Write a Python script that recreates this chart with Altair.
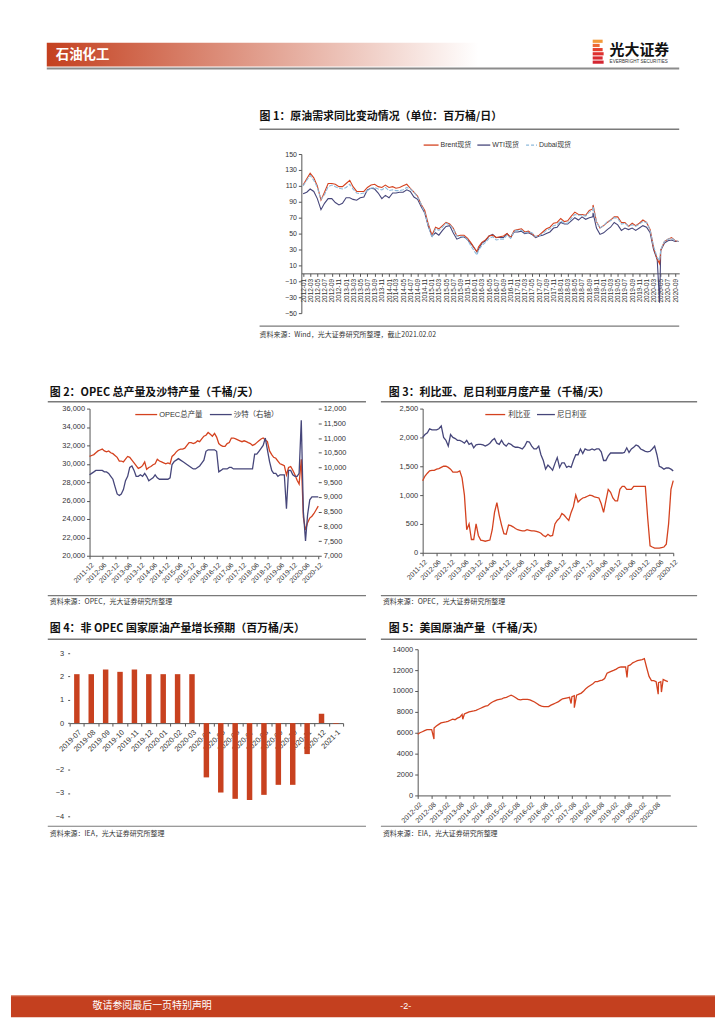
import altair as alt
import pandas as pd

FONT = "Liberation Sans, Noto Sans CJK SC, sans-serif"
CJK = "Noto Sans CJK SC"
RED = "#d4421f"
NAVY = "#46467a"
BLUE = "#8dbadc"
LINEGRAY = "#8a8a8a"
AXC = "#555555"
LBL = "#333333"

# ---------------- Figure 1 : Brent / WTI / Dubai spot ----------------
f1_start, f1_end = "2012-01-01", "2020-10-01"
brent = [111, 119, 126, 120, 110, 92, 102, 113, 113, 112, 109, 109,
         113, 117, 109, 103, 103, 103, 108, 111, 112, 109, 108, 111,
         108, 109, 107, 108, 110, 112, 107, 102, 97, 87, 79, 62,
         48, 58, 56, 60, 64, 62, 57, 47, 48, 48, 44, 38,
         31, 33, 39, 42, 47, 48, 45, 46, 47, 50, 45, 54,
         55, 56, 52, 53, 50, 46, 48, 52, 56, 58, 63, 64,
         69, 65, 66, 72, 77, 74, 74, 73, 79, 81, 65, 57,
         60, 64, 67, 71, 71, 64, 64, 59, 63, 60, 63, 67,
         64, 55, 32, 18, 29, 40, 43, 45, 41, 40]
wti = [100, 102, 106, 103, 94, 80, 88, 94, 94, 89, 86, 88,
       95, 95, 93, 92, 95, 96, 105, 107, 106, 101, 94, 98,
       95, 101, 101, 102, 102, 105, 103, 96, 93, 84, 76, 59,
       47, 51, 48, 54, 59, 60, 51, 43, 45, 46, 42, 37,
       31, 30, 38, 41, 47, 49, 45, 45, 45, 50, 45, 52,
       52, 53, 50, 51, 49, 45, 47, 48, 50, 52, 57, 58,
       64, 62, 62, 66, 70, 67, 71, 68, 70, 71, 57, 49,
       51, 55, 58, 64, 61, 54, 57, 55, 57, 54, 57, 60,
       58, 51, 30, 17, 29, 38, 41, 42, 40, 40]
dubai = [110, 117, 123, 117, 108, 93, 99, 109, 111, 109, 107, 106,
         108, 112, 106, 101, 100, 101, 104, 107, 108, 106, 105, 108,
         104, 105, 104, 104, 105, 108, 106, 102, 96, 87, 76, 60,
         45, 56, 54, 58, 63, 61, 56, 47, 46, 46, 42, 34,
         27, 29, 35, 39, 44, 46, 42, 43, 43, 48, 44, 53,
         54, 54, 51, 52, 51, 46, 47, 50, 54, 56, 60, 61,
         66, 63, 63, 69, 74, 73, 73, 72, 77, 79, 65, 57,
         60, 65, 66, 70, 69, 62, 63, 59, 61, 59, 62, 65,
         64, 54, 34, 20, 30, 40, 43, 44, 41, 40]
f1_extra_dates = ["2016-01-20", "2018-10-03", "2020-04-21"]
f1_extra_brent = [27, 86, 12]
f1_extra_wti = [27, 76, -37]
f1_extra_dubai = [23, 84, 16]
f1_ticks = [f"{y}-{m:02d}" for y in range(2012, 2021) for m in (1, 3, 5, 7, 9, 11)
            if (y, m) <= (2020, 9)]
f1_yticks = [-50, -30, -10, 10, 30, 50, 70, 90, 110, 130, 150]

# ---------------- Figure 2 : OPEC & Saudi ----------------
f2_start, f2_end = "2011-12-01", "2020-12-01"
opec = [30800,
        30900, 31000, 31200, 31400, 31500, 31600, 31400, 31300, 31400, 31200, 31100, 30900,
        30700, 30300, 30300, 30200, 30500, 30800, 30700, 30400, 30100, 29800, 29500, 29600,
        29800, 30200, 29400, 29600, 29700, 29900, 30000, 30500, 30300, 30200, 30100, 30000,
        30100, 30000, 30800, 31000, 31300, 31500, 31600, 31600, 31700, 32000, 32300, 32300,
        32200, 32300, 32500, 32400, 32700, 33000, 33100, 33400, 33200, 33000, 33300, 32900,
        32200, 32000, 31900, 31900, 32200, 32300, 32800, 32800, 32700, 32600, 32500, 32400,
        32500, 32400, 32300, 32200, 32000, 32100, 32300, 32500, 32700, 32800, 32600, 32400,
        31400, 31000, 30700, 30600, 30300, 30000, 29900, 29800, 28800, 29600, 29700, 29300,
        28800, 28200, 27800, 30500, 24200, 22800, 23600, 24100, 24300, 24600, 25000, 25400]
saudi = [9750,
         9800, 9850, 9900, 9900, 9900, 9900, 9850, 9850, 9800, 9700, 9600, 9350,
         9100, 9050, 9100, 9250, 9550, 9700, 10000, 10050, 9900, 9700, 9700, 9750,
         9700, 9800, 9700, 9550, 9600, 9650, 9750, 9650, 9600, 9600, 9600, 9600,
         9600, 9650, 10100, 10200, 10250, 10300, 10250, 10200, 10150, 10100, 10050, 10000,
         9950, 9950, 10000, 10050, 10150, 10250, 10550, 10600, 10600, 10600, 10600, 10550,
         9850, 9900, 9950, 9950, 9950, 10000, 10000, 9950, 9950, 9950, 9950, 9950,
         9950, 9950, 9950, 9950, 9950, 10450, 10450, 10550, 10650, 10750, 11000, 10600,
         10200, 9900, 9800, 9800, 9700, 9750, 9750, 9750, 8600, 9900, 9900, 9750,
         9700, 9700, 9800, 11600, 8500, 7500, 8400, 8900, 9000, 9000, 9000, 9000]
f2_ticks = [f"{y}-{m:02d}" for y in range(2011, 2021) for m in (6, 12) if (y, m) >= (2011, 12)]
f2_lticks = list(range(20000, 36001, 2000))
f2_rticks = list(range(7000, 12001, 500))

# ---------------- Figure 3 : Libya & Nigeria ----------------
libya = [1250,
         1330, 1380, 1420, 1430, 1430, 1450, 1460, 1480, 1500, 1500, 1480, 1450,
         1400, 1400, 1400, 1420, 1300, 1000, 400, 500, 230, 230, 500, 300,
         220, 210, 200, 210, 220, 400, 700, 870, 650, 480, 330, 320,
         480, 470, 450, 420, 400, 390, 380, 380, 400, 390, 380, 380,
         370, 360, 340, 300, 280, 320, 290, 300, 500, 560, 600, 680,
         650, 600, 560, 700, 800, 1000, 880, 920, 950, 960, 980, 1000,
         990, 970, 960, 950, 850, 700, 900, 1100, 1050, 950, 900, 900,
         1100, 1150, 1150, 1100, 1100, 1100, 1150, 1150, 1150, 1150, 1150, 1150,
         600, 120, 100, 80, 80, 80, 90, 100, 150, 500, 1100, 1250]
nigeria = [2000,
           2050, 2080, 2150, 2130, 2130, 2130, 2150, 2200, 2000, 1950, 1850, 2050,
           2000, 1980, 1950, 1950, 1930, 1900, 1950, 1880, 1900, 1820, 1870, 1880,
           1880, 1870, 1850, 1870, 1900, 1950, 1980, 1900, 1880, 1950, 1880, 1850,
           1900, 1880, 1850, 1830, 1830, 1820, 1800, 1850, 1930, 1920, 1850, 1800,
           1800, 1850, 1700, 1600, 1450, 1520, 1480, 1430, 1550, 1650, 1480, 1560,
           1560, 1480, 1500, 1480, 1600, 1700, 1700, 1800, 1720, 1800, 1780, 1780,
           1800, 1780, 1800, 1800, 1750, 1600, 1600, 1680, 1730, 1730, 1730, 1730,
           1730, 1730, 1740, 1820, 1740, 1800, 1830, 1870, 1850, 1800, 1780, 1760,
           1750, 1760, 1800, 1850, 1700, 1500, 1480, 1450, 1470, 1470, 1450, 1420]
f3_yticks = [0, 500, 1000, 1500, 2000, 2500]

# ---------------- Figure 4 : non-OPEC growth ----------------
f4_cats = ["2019-07", "2019-08", "2019-09", "2019-10", "2019-11", "2019-12",
           "2020-01", "2020-02", "2020-03", "2020-04", "2020-05", "2020-06",
           "2020-07", "2020-08", "2020-09", "2020-10", "2020-11", "2020-12", "2021-1"]
f4_vals = [2.1, 2.1, 2.3, 2.2, 2.3, 2.1, 2.1, 2.1, 2.1, -2.33, -2.98, -3.25,
           -3.3, -3.08, -2.65, -2.65, -1.33, 0.4, -0.03]
f4_yticks = [-4, -3, -2, 0, 1, 2, 3]

# ---------------- Figure 5 : US crude output ----------------
f5_start, f5_end = "2012-02-01", "2021-01-01"
us = [5850, 6000, 6100, 6200, 6300, 6300, 6300, 6450, 6650, 6800, 6950,
      7000, 7050, 7100, 7200, 7300, 7250, 7400, 7500, 7750, 7800, 7900, 8000,
      8050, 8100, 8150, 8250, 8350, 8450, 8550, 8600, 8800, 8950, 9050, 9150,
      9200, 9250, 9350, 9400, 9500, 9600, 9500, 9350, 9200, 9150, 9200, 9200,
      9200, 9150, 9050, 8950, 8800, 8650, 8550, 8500, 8500, 8500, 8650, 8750,
      8850, 8950, 9100, 9250, 9300, 9350, 9400, 9450, 9550, 9600, 9700, 9800,
      10000, 10250, 10400, 10550, 10700, 10900, 10900, 11000, 11050, 11200, 11700, 11800,
      11900, 12000, 12100, 12250, 12300, 12300, 12300, 12400, 12500, 12700, 12800, 12900,
      12950, 13000, 13100, 12200, 11400, 11000, 11000, 10900, 10800, 10900, 11100, 11000,
      10900]
us_dip_dates = ["2012-08-31", "2013-09-10", "2017-07-21", "2017-09-01",
                "2019-07-19", "2020-08-28", "2020-10-09"]
us_dip_vals = [5400, 7300, 8800, 8400, 11300, 9700, 9900]
f5_ticks = [f"{y}-{m:02d}" for y in range(2012, 2021) for m in (2, 8)]
f5_yticks = list(range(0, 14001, 2000))

# ---------------- texts ----------------
T1 = "图 1：原油需求同比变动情况（单位：百万桶/日）"
T2 = "图 2：OPEC 总产量及沙特产量（千桶/天）"
T3 = "图 3：利比亚、尼日利亚月度产量（千桶/天）"
T4 = "图 4：非 OPEC 国家原油产量增长预期（百万桶/天）"
T5 = "图 5：美国原油产量（千桶/天）"
S1 = "资料来源：Wind，光大证券研究所整理，截止2021.02.02"
S2 = "资料来源：OPEC，光大证券研究所整理"
S4 = "资料来源：IEA，光大证券研究所整理"
S5 = "资料来源：EIA，光大证券研究所整理"

# ================= helpers =================
ONE = pd.DataFrame({"k": [0]})
NOVIEW = alt.ViewBackground(stroke="transparent", strokeWidth=0)


def txt(t, x, y, size=7, color=LBL, weight="normal", align="left", font=FONT):
    return alt.Chart(ONE).mark_text(text=t, align=align, baseline="middle", fontSize=size,
                                    color=color, fontWeight=weight, font=font).encode(
        x=alt.value(x), y=alt.value(y))


def hline(x1, x2, y, color=LINEGRAY, width=1.0, dash=None):
    kw = dict(color=color, strokeWidth=width)
    if dash:
        kw["strokeDash"] = dash
    return alt.Chart(ONE).mark_rule(**kw).encode(x=alt.value(x1), x2=alt.value(x2), y=alt.value(y))


def box(x1, x2, y1, y2, color):
    return alt.Chart(ONE).mark_rect(color=color).encode(
        x=alt.value(x1), x2=alt.value(x2), y=alt.value(y1), y2=alt.value(y2))


def spacer(w, h):
    return alt.Chart(ONE).mark_point(opacity=0).encode(
        x=alt.value(0), y=alt.value(0)).properties(width=w, height=h, view=NOVIEW)


def dt(s):
    y, m = int(s[:4]), int(s[5:7])
    d = int(s[8:10]) if len(s) > 7 else 1
    return alt.DateTime(year=y, month=m, date=d)


def xaxis(ticks, angle, offset=0, size=7):
    kw = dict(values=[dt(t) for t in ticks], format="%Y-%m", labelAngle=angle,
              labelAlign="right", labelFontSize=size, labelColor=LBL, title=None,
              domainColor=AXC, tickColor=AXC, tickSize=3, labelPadding=2,
              labelOverlap=False, labelFlush=False, grid=False)
    if angle == 270:
        kw["labelBaseline"] = "middle"
    else:
        kw["labelBaseline"] = "top"
    if offset:
        kw["offset"] = offset
    return alt.Axis(**kw)


def yaxis(ticks, fmt=None, orient="left", domain=True, size=7.5):
    kw = dict(values=ticks, labelFontSize=size, labelColor=LBL, title=None, grid=False,
              domain=domain, domainColor=AXC, tickColor=AXC, tickSize=3, orient=orient,
              labelPadding=2)
    if fmt:
        kw["format"] = fmt
    return alt.Axis(**kw)


def title_block(title, src, tx, ty, lx1, lx2, ly, sly, sy, sx):
    return [txt(title, tx, ty, size=11, color="#111", weight="bold", font=CJK),
            hline(lx1, lx2, ly, color="#7a7a7a", width=1.5),
            hline(lx1, lx2, sly, color="#7a7a7a", width=1.2),
            txt(src, sx, sy, size=7, color="#333", font=CJK)]


# ================= header =================
grad = alt.LinearGradient(gradient="linear",
                          stops=[alt.GradientStop(color="#c4401f", offset=0),
                                 alt.GradientStop(color="#ffffff", offset=1)],
                          x1=0, x2=1, y1=0, y2=0)
header_layers = [
    alt.Chart(ONE).mark_rect(color=grad).encode(x=alt.value(36), x2=alt.value(470),
                                                y=alt.value(32), y2=alt.value(56)),
    hline(36, 672, 58, color="#8c8c8c", width=2),
    txt("石油化工", 45, 44, size=13.5, color="white", weight="bold", font=CJK),
]
logo_cols = ["#f39a3a", "#ec6a35", "#e4412e", "#de2f2e", "#d82a30", "#d42632"]
logo_w = [10, 7, 10, 11, 10, 11]
for i, (c, w) in enumerate(zip(logo_cols, logo_w)):
    header_layers.append(box(585, 585 + w, 29 + i * 4.2, 32.2 + i * 4.2, c))
header_layers += [
    txt("光大证券", 602, 39, size=15, color="#111", weight="bold", font=CJK),
    txt("EVERBRIGHT SECURITIES", 602, 51, size=4.6, color="#333"),
]
header = alt.layer(*header_layers).properties(width=708, height=144, view=NOVIEW)

# ================= figure 1 =================
d1 = pd.DataFrame({"date": pd.date_range(f1_start, f1_end, freq="MS").strftime("%Y-%m-%d"),
                   "Brent": brent, "WTI": wti, "Dubai": dubai})
d1x = pd.DataFrame({"date": f1_extra_dates, "Brent": f1_extra_brent,
                    "WTI": f1_extra_wti, "Dubai": f1_extra_dubai})
d1 = pd.concat([d1, d1x]).sort_values("date").reset_index(drop=True)

x1 = alt.X("date:T", scale=alt.Scale(domain=[dt("2011-12-17"), dt("2020-10-05")]),
           axis=xaxis(f1_ticks, 270, offset=-40, size=6.5))
y1s = alt.Scale(domain=[-50, 150], nice=False)
b1 = alt.Chart(d1)
f1_layers = [
    b1.mark_line(color=NAVY, strokeWidth=1.1).encode(
        x=x1, y=alt.Y("WTI:Q", scale=y1s, axis=yaxis(f1_yticks, size=7))),
    b1.mark_line(color=RED, strokeWidth=1.1).encode(
        x=x1, y=alt.Y("Brent:Q", scale=y1s, axis=yaxis(f1_yticks, size=7))),
    b1.mark_line(color=BLUE, strokeWidth=1.1, strokeDash=[4, 1.5]).encode(
        x=x1, y=alt.Y("Dubai:Q", scale=y1s, axis=yaxis(f1_yticks, size=7))),
    hline(123, 138, -9, color=RED, width=1.3),
    txt("Brent现货", 140, -9, size=7, font=FONT),
    hline(177, 190, -9, color=NAVY, width=1.3),
    txt("WTI现货", 192, -9, size=7, font=FONT),
    hline(226, 237, -9, color=BLUE, width=1.3, dash=[3, 2]),
    txt("Dubai现货", 239, -9, size=7, font=FONT),
] + title_block(T1, S1, -42, -37, -42, 380, -25, 173, 182, -42)
fig1 = alt.layer(*f1_layers).properties(width=380, height=160, view=NOVIEW)

# ================= figure 2 =================
d2 = pd.DataFrame({"date": pd.date_range(f2_start, f2_end, freq="MS").strftime("%Y-%m-%d"),
                   "OPEC": opec, "Saudi": saudi})
x2 = alt.X("date:T", scale=alt.Scale(domain=[dt(f2_start), dt(f2_end)]),
           axis=xaxis(f2_ticks, 315))
b2 = alt.Chart(d2)
fig2_lines = [
    b2.mark_line(color=RED, strokeWidth=1.3).encode(
        x=x2, y=alt.Y("OPEC:Q", scale=alt.Scale(domain=[20000, 36000], nice=False),
                      axis=yaxis(f2_lticks, fmt=",.0f"))),
    b2.mark_line(color=NAVY, strokeWidth=1.3).encode(
        x=x2, y=alt.Y("Saudi:Q", scale=alt.Scale(domain=[7000, 12000], nice=False),
                      axis=yaxis(f2_rticks, fmt=",.0f", orient="right", domain=False))),
]
fig2_dec = [
    hline(46, 68, 6, color=RED, width=1.3),
    txt("OPEC总产量", 70, 6, size=7.5, font=FONT),
    hline(121, 143, 6, color=NAVY, width=1.3),
    txt("沙特（右轴）", 145, 6, size=7.5, font=FONT),
] + title_block(T2, S2, -40, -16, -42, 278, -7, 188, 195, -40)
fig2 = alt.layer(*fig2_lines, *fig2_dec).resolve_scale(y="independent").properties(
    width=230, height=148, view=NOVIEW)

# ================= figure 3 =================
d3 = pd.DataFrame({"date": pd.date_range(f2_start, f2_end, freq="MS").strftime("%Y-%m-%d"),
                   "Libya": libya, "Nigeria": nigeria})
x3 = alt.X("date:T", scale=alt.Scale(domain=[dt(f2_start), dt(f2_end)]),
           axis=xaxis(f2_ticks, 315))
y3s = alt.Scale(domain=[0, 2500], nice=False)
b3 = alt.Chart(d3)
fig3 = alt.layer(
    b3.mark_line(color=NAVY, strokeWidth=1.3).encode(
        x=x3, y=alt.Y("Nigeria:Q", scale=y3s, axis=yaxis(f3_yticks, fmt=",.0f"))),
    b3.mark_line(color=RED, strokeWidth=1.3).encode(
        x=x3, y=alt.Y("Libya:Q", scale=y3s, axis=yaxis(f3_yticks, fmt=",.0f"))),
    hline(63, 83, 6, color=RED, width=1.3),
    txt("利比亚", 86, 6, size=7.5, font=CJK),
    hline(115, 133, 6, color=NAVY, width=1.3),
    txt("尼日利亚", 135, 6, size=7.5, font=CJK),
    *title_block(T3, S2, -34, -16, -42, 276, -7, 188, 195, -40),
).properties(width=252, height=145, view=NOVIEW)

# ================= figure 4 =================
d4 = pd.DataFrame({"cat": f4_cats, "val": f4_vals})
fig4 = alt.layer(
    alt.Chart(d4).mark_bar(color="#c8411f", size=5.5).encode(
        x=alt.X("cat:N", sort=f4_cats,
                scale=alt.Scale(paddingInner=0, paddingOuter=0),
                axis=alt.Axis(labelAngle=315, labelAlign="right", labelBaseline="top",
                              labelFontSize=7.5, labelColor=LBL, title=None, offset=-93.7,
                              domainColor=AXC, tickColor=AXC, tickSize=3, tickBand="extent",
                              labelPadding=2)),
        y=alt.Y("val:Q", scale=alt.Scale(domain=[-4, 3.17], nice=False),
                axis=alt.Axis(values=f4_yticks, labelFontSize=7.5, labelColor=LBL, title=None,
                              grid=False, domain=False, tickColor=AXC, tickSize=2,
                              labelPadding=4))),
    *title_block(T4, S4, -20, -20, -22, 298, -10, 178, 186, -20),
).properties(width=275, height=168, view=NOVIEW)

# ================= figure 5 =================
d5 = pd.DataFrame({"date": pd.date_range(f5_start, f5_end, freq="MS").strftime("%Y-%m-%d"),
                   "us": us})
d5 = pd.concat([d5, pd.DataFrame({"date": us_dip_dates, "us": us_dip_vals})]).sort_values(
    "date").reset_index(drop=True)
fig5 = alt.layer(
    alt.Chart(d5).mark_line(color=RED, strokeWidth=1.3).encode(
        x=alt.X("date:T", scale=alt.Scale(domain=[dt("2012-02-01"), dt("2021-02-01")]),
                axis=xaxis(f5_ticks, 315)),
        y=alt.Y("us:Q", scale=alt.Scale(domain=[0, 14000], nice=False),
                axis=yaxis(f5_yticks, fmt="d"))),
    *title_block(T5, S5, -29, -20, -37, 281, -10, 178, 186, -35),
).properties(width=254, height=147, view=NOVIEW)

# ================= footer (cell starts at page y 650) =================
footer = alt.layer(
    box(0, 708, 348, 370, "#c4401f"),
    hline(0, 708, 348.5, color="#e39a85", width=1),
    txt("敬请参阅最后一页特别声明", 82, 359, size=10, color="white", font=CJK),
    txt("-2-", 397, 359, size=9, color="white", align="center"),
).properties(width=708, height=370, view=NOVIEW)

row1 = alt.hconcat(spacer(292, 160), fig1, spacing=0, bounds="flush")
row2 = alt.hconcat(spacer(79, 148), fig2, spacer(105, 148), fig3, spacing=0, bounds="flush")
row3 = alt.hconcat(spacer(59, 168), fig4, spacer(75, 168), fig5, spacing=0, bounds="flush")

# nested concat rows count as zero height under flush bounds, so spacers carry the height
chart = alt.vconcat(header, row1, spacer(10, 256), row2, spacer(10, 242), row3, footer,
                    spacing=0, bounds="flush").properties(padding=0).configure_view(
    stroke="transparent", strokeWidth=0).configure(font=FONT)

chart.save("out.html", embed_options={"renderer": "svg", "actions": False})
